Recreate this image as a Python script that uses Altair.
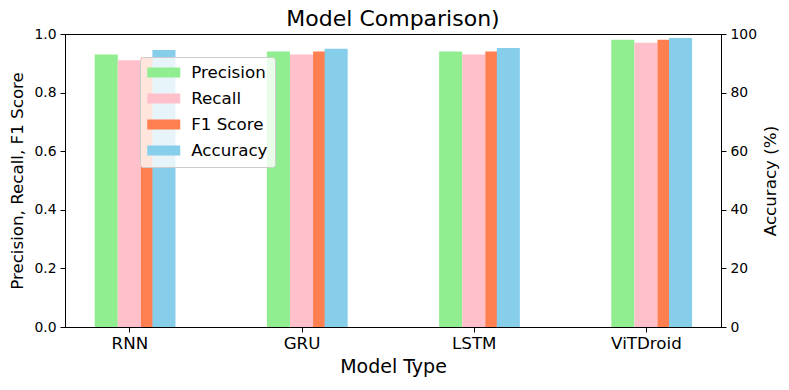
import altair as alt
import pandas as pd

models = ["RNN", "GRU", "LSTM", "ViTDroid"]
precision = [0.93, 0.94, 0.94, 0.98]
recall = [0.91, 0.93, 0.93, 0.97]
f1_score = [0.92, 0.94, 0.94, 0.98]
accuracy = [94.5, 95.0, 95.2, 98.6]

metrics = ["Precision", "Recall", "F1 Score", "Accuracy"]
colors = ["#90EE90", "#FFC0CB", "#FF7F50", "#87CEEB"]
offsets = [-1.0, 0.0, 1.0, 1.5]
bar_w = 0.134

rows = []
for m, vals, off in zip(metrics, [precision, recall, f1_score, accuracy], offsets):
    for i, (name, v) in enumerate(zip(models, vals)):
        c = i + off * bar_w
        rows.append({"model": name, "metric": m, "value": v,
                     "x0": c - bar_w / 2, "x1": c + bar_w / 2})
df = pd.DataFrame(rows)

FONT = "DejaVu Sans"
label_expr = "[" + ",".join("'%s'" % m for m in models) + "][datum.value]"

x_enc = alt.X("x0:Q",
              scale=alt.Scale(domain=[-0.3736, 3.436], nice=False, zero=False),
              axis=alt.Axis(values=[0, 1, 2, 3], labelExpr=label_expr,
                            title="Model Type", titleFontSize=19, labelFontSize=16.7,
                            labelPadding=3, titlePadding=6, grid=False, labelFlush=False))
x2_enc = alt.X2("x1:Q")
y2_enc = alt.Y2Datum(datum=0)

color_enc = alt.Color("metric:N",
                      scale=alt.Scale(domain=metrics, range=colors),
                      legend=alt.Legend(
                          title=None, orient="none", legendX=75, legendY=23,
                          symbolType="M-2,-0.6L2,-0.6L2,0.6L-2,0.6Z",
                          symbolSize=272, symbolOffset=8.25, symbolStrokeWidth=0,
                          symbolOpacity=1, labelOffset=19,
                          labelFontSize=16.7, labelFont=FONT, labelColor="black",
                          rowPadding=8, padding=7,
                          fillColor="rgba(255,255,255,0.8)", strokeColor="#cccccc",
                          cornerRadius=3))

left = alt.Chart(df).transform_filter(
    alt.FieldOneOfPredicate(field="metric", oneOf=metrics[:3])
).mark_bar().encode(
    x=x_enc, x2=x2_enc,
    y=alt.Y("value:Q", scale=alt.Scale(domain=[0, 1], nice=False),
            axis=alt.Axis(orient="left", values=[0, 0.2, 0.4, 0.6, 0.8, 1.0], format=".1f",
                          title="Precision, Recall, F1 Score", titleFontSize=16.7,
                          labelFontSize=13.9, labelPadding=4, titlePadding=7, grid=False,
                          labelFlush=False)),
    y2=y2_enc,
    color=color_enc,
)

right = alt.Chart(df).transform_filter(
    alt.FieldEqualPredicate(field="metric", equal="Accuracy")
).mark_bar().encode(
    x=x_enc, x2=x2_enc,
    y=alt.Y("value:Q", scale=alt.Scale(domain=[0, 100], nice=False),
            axis=alt.Axis(orient="right", values=[0, 20, 40, 60, 80, 100], format="d",
                          title="Accuracy (%)", titleFontSize=16.7, titleAngle=270,
                          labelFontSize=13.9, labelPadding=4, titlePadding=23, grid=False,
                          labelFlush=False)),
    y2=y2_enc,
    color=color_enc,
)

chart = alt.layer(left, right).resolve_scale(y="independent").properties(
    width=656, height=293,
    title=alt.TitleParams("Model Comparison)", fontSize=22, fontWeight="normal",
                          font=FONT, color="black", offset=-4),
    autosize=alt.AutoSizeParams(type="none"),
    padding={"left": 57, "top": 26, "right": 60, "bottom": 55},
).configure_axis(
    labelFont=FONT, titleFont=FONT, labelColor="black", titleColor="black",
    domainColor="black", tickColor="black", tickSize=5, titleFontWeight="normal",
).configure_view(stroke="black", strokeWidth=1)

chart.save("out.html", embed_options={"renderer": "svg", "actions": False})
